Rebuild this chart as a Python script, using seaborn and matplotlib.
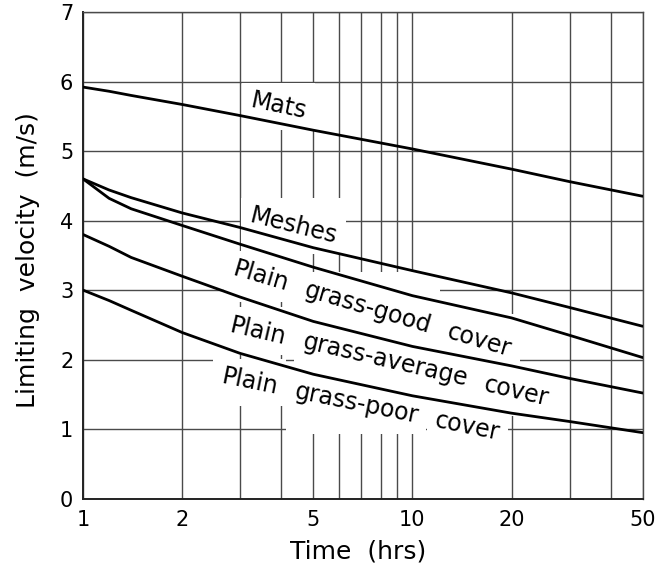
import numpy as np
import pandas as pd
import matplotlib
matplotlib.use("Agg")
import matplotlib.pyplot as plt
import seaborn as sns
from matplotlib.patches import Rectangle
from matplotlib.ticker import FixedLocator, FixedFormatter, NullFormatter

# ---------------- data ----------------
time_hrs = [1, 1.2, 1.4, 2, 3, 5, 10, 20, 30, 50]
mats = [5.92, 5.86, 5.80, 5.67, 5.51, 5.30, 5.03, 4.74, 4.56, 4.35]
meshes = [4.60, 4.44, 4.33, 4.11, 3.90, 3.61, 3.28, 2.96, 2.75, 2.48]
grass_good = [4.60, 4.32, 4.17, 3.93, 3.66, 3.33, 2.92, 2.60, 2.35, 2.03]
grass_average = [3.80, 3.63, 3.47, 3.20, 2.90, 2.55, 2.19, 1.91, 1.73, 1.52]
grass_poor = [3.00, 2.85, 2.71, 2.39, 2.09, 1.79, 1.48, 1.23, 1.11, 0.95]

series_names = ["Mats", "Meshes", "Plain grass-good cover",
                "Plain grass-average cover", "Plain grass-poor cover"]

x_major_ticks = [1, 2, 5, 10, 20, 50]
x_major_labels = ["1", "2", "5", "10", "20", "50"]
x_minor_ticks = [3, 4, 6, 7, 8, 9, 30, 40]
y_ticks = [0, 1, 2, 3, 4, 5, 6, 7]
y_labels = ["0", "1", "2", "3", "4", "5", "6", "7"]

x_title = "Time  (hrs)"
y_title = "Limiting  velocity  (m/s)"

# ---------------- layout / style ----------------
label_anchor = [(3.20, 5.63), (3.18, 3.98), (2.83, 3.22), (2.77, 2.40), (2.61, 1.66)]
label_angle = [-12, -14, -16.5, -13, -11.5]
GRID = "#4a4a4a"
LABEL_FS = 17

sns.set_theme(style="white")
plt.rcParams["font.family"] = ["DejaVu Sans"]

fig = plt.figure(figsize=(6.61, 5.69), dpi=100)
ax = fig.add_axes([83 / 661, 1 - 498.7 / 569, 559.7 / 661, 486.7 / 569])

frames = []
for name, vals in zip(series_names, [mats, meshes, grass_good, grass_average, grass_poor]):
    frames.append(pd.DataFrame({"time": time_hrs, "velocity": vals, "series": name}))
df = pd.concat(frames, ignore_index=True)

for name in series_names:
    sub = df[df["series"] == name]
    sns.lineplot(data=sub, x="time", y="velocity", ax=ax, color="black",
                 lw=2.0, zorder=3, legend=False, estimator=None, sort=True)

ax.set_xscale("log")
ax.set_xlim(1, 50)
ax.set_ylim(0, 7)
ax.xaxis.set_major_locator(FixedLocator(x_major_ticks))
ax.xaxis.set_major_formatter(FixedFormatter(x_major_labels))
ax.xaxis.set_minor_locator(FixedLocator(x_minor_ticks))
ax.xaxis.set_minor_formatter(NullFormatter())
ax.set_yticks(y_ticks)
ax.set_yticklabels(y_labels)
ax.set_axisbelow(True)
ax.grid(True, which="both", color=GRID, lw=1.0)
ax.tick_params(which="both", length=0, labelsize=15, colors="black")
ax.tick_params(axis="x", pad=8)
ax.tick_params(axis="y", pad=7)

for side, sp in ax.spines.items():
    sp.set_visible(True)
    sp.set_color(GRID if side in ("top", "right") else "#222222")
    sp.set_linewidth(1.0 if side in ("top", "right") else 1.4)
    sp.set_zorder(2.5)

ax.set_xlabel(x_title, fontsize=18, color="black")
ax.set_ylabel(y_title, fontsize=18, color="black")
ax.xaxis.set_label_coords(0.491, -0.083)
ax.yaxis.set_label_coords(-0.077, 0.49)

# ---------------- labels with grid masks ----------------
fig.canvas.draw()
renderer = fig.canvas.get_renderer()
fs_px = LABEL_FS * fig.dpi / 72.0
gap = 0.75 * fs_px
pad = 6
for name, (tx, ty), ang in zip(series_names, label_anchor, label_angle):
    p = np.array(ax.transData.transform((tx, ty)), dtype=float)
    d = np.array([np.cos(np.radians(ang)), np.sin(np.radians(ang))])
    for word in name.split(" "):
        probe = fig.text(0, 0, word, fontsize=LABEL_FS)
        w = probe.get_window_extent(renderer).width
        probe.remove()
        pos = ax.transData.inverted().transform(p)
        txt = ax.text(pos[0], pos[1], word, fontsize=LABEL_FS, rotation=ang,
                      rotation_mode="anchor", ha="left", va="baseline",
                      zorder=4, color="black")
        bb = txt.get_window_extent(renderer)
        (ax0, ay0) = ax.transAxes.inverted().transform((bb.x0 - pad, bb.y0 - pad))
        (ax1, ay1) = ax.transAxes.inverted().transform((bb.x1 + pad, bb.y1 + pad))
        ax.add_patch(Rectangle((ax0, ay0), ax1 - ax0, ay1 - ay0, transform=ax.transAxes,
                               facecolor="white", edgecolor="none", zorder=1))
        p = p + d * (w + gap)

fig.savefig("out.png", dpi=100)
